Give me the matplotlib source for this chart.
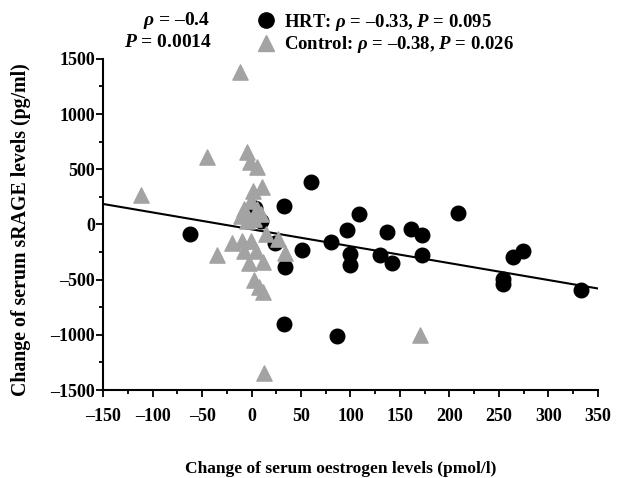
import matplotlib
matplotlib.use('Agg')
import matplotlib.pyplot as plt
import numpy as np
from matplotlib.ticker import MultipleLocator
from matplotlib.lines import Line2D

plt.rcParams['font.family'] = 'Liberation Serif'
plt.rcParams['font.weight'] = 'bold'
plt.rcParams['mathtext.fontset'] = 'custom'
plt.rcParams['mathtext.rm'] = 'Liberation Serif:bold'
plt.rcParams['mathtext.it'] = 'Liberation Serif:italic:bold'
plt.rcParams['mathtext.bf'] = 'Liberation Serif:bold'

# HRT group (black circles)
hrt_x = [-62, 3, 10, 24, 33, 34, 33, 51, 60, 80, 86, 96, 100, 100, 109, 130,
         137, 142, 161, 172, 172, 209, 254, 254, 264, 274, 333]
hrt_y = [-85, 150, 28, -170, 170, -390, -906, -230, 387, -157, -1006, -55, -269,
         -366, 97, -275, -67, -345, -37, -98, -281, 106, -497, -543, -293, -244, -595]

# Control group (grey triangles)
ctl_x = [-112, -45, -12, -35, -20, -5, -2, 5, 1, 11, -8, -1, 5, 10, -11, -5, 2,
         15, 27, -1, -8, 4, -3, 12, 34, 2, 7, 12, 13, 170, -10]
ctl_y = [265, 615, 1380, -275, -168, 655, 564, 518, 305, 335, 137, 213, 137, 91,
         76, 30, 46, -91, -130, -153, -244, -244, -351, -336, -260, -503, -564,
         -610, -1350, -1000, -153]

# regression line (all subjects)
fit_x = [-150, 350]
fit_y = [185, -580]

x_ticks = np.arange(-150, 351, 50)
y_ticks = np.arange(-1500, 1501, 500)

fig = plt.figure(figsize=(6.22, 4.78), dpi=100)
ax = fig.add_axes([0.166, 0.184, 0.795, 0.693])

ax.plot(fit_x, fit_y, color='black', lw=1.5, zorder=2)
ax.scatter(hrt_x, hrt_y, s=110, marker='o', color='black', zorder=3)
ax.scatter(ctl_x, ctl_y, s=120, marker='^', color='#a3a3a3', zorder=4)

ax.set_xlim(-150, 350)
ax.set_ylim(-1500, 1500)
ax.set_xticks(x_ticks)
ax.set_yticks(y_ticks)
ax.set_xticklabels([str(v).replace('-', '\u2013') for v in x_ticks])
ax.set_yticklabels([str(v).replace('-', '\u2013') for v in y_ticks])
ax.xaxis.set_minor_locator(MultipleLocator(25))
ax.yaxis.set_minor_locator(MultipleLocator(250))
ax.tick_params(which='major', length=5, width=1.3, labelsize=13, direction='out')
ax.tick_params(which='minor', length=3, width=1.3, direction='out')
ax.tick_params(axis='x', which='major', pad=8)
ax.tick_params(axis='y', which='major', pad=1)
for s in ['top', 'right']:
    ax.spines[s].set_visible(False)
for s in ['left', 'bottom']:
    ax.spines[s].set_linewidth(1.5)

fig.text(0.033, 0.519, 'Change of serum sRAGE levels (pg/ml)', fontsize=14.3,
         fontweight='bold', rotation=90, ha='center', va='center')
fig.text(0.547, 0.0105, 'Change of serum oestrogen levels (pmol/l)', fontsize=12.5,
         fontweight='bold', ha='center', va='baseline')

fig.text(0.338, 0.957, '$\\rho$ = \u20130.4', fontsize=14, ha='right', va='center')
fig.text(0.341, 0.911, '$P$ = 0.0014', fontsize=14, ha='right', va='center')

handles = [Line2D([], [], marker='o', color='black', ls='none', markersize=11),
           Line2D([], [], marker='^', color='#a3a3a3', ls='none', markersize=11)]
labels = ['HRT: $\\rho$ = \u20130.33, $P$ = 0.095',
          'Control: $\\rho$ = \u20130.38, $P$ = 0.026']
fig.legend(handles, labels, loc='center left', bbox_to_anchor=(0.385, 0.930),
           frameon=False, fontsize=13.5, handletextpad=0.45, labelspacing=0.1,
           handlelength=1.0)

fig.savefig('out.png', dpi=100)
